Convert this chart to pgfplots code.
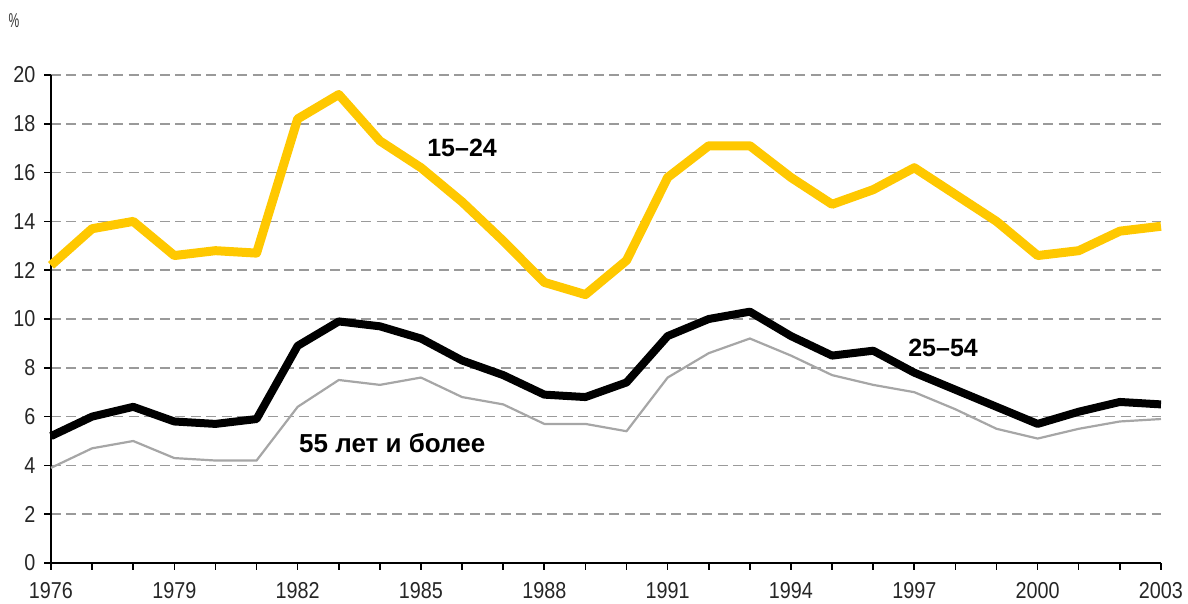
\documentclass[border=0pt]{standalone}
\usepackage{fontspec}
\setmainfont{Liberation Sans}
\newfontfamily\tickfont[FakeStretch=0.86]{Liberation Sans}
\usepackage{graphicx}
\usepackage{pgfplots}
\pgfplotsset{compat=1.18}
\definecolor{ylw}{HTML}{FFC800}
\definecolor{gry}{HTML}{A6A6A6}
\definecolor{grd}{HTML}{9A9A9A}
\begin{document}
\begin{tikzpicture}[x=1pt,y=1pt]
\useasboundingbox (-51,-41) rectangle (1137,563);
\begin{axis}[
  at={(0,0)}, anchor=south west,
  scale only axis, width=1110pt, height=488pt,
  xmin=1976, xmax=2003, ymin=0, ymax=20,
  axis x line*=bottom, axis y line*=left,
  axis line style={-, line width=1.6pt, black},
  xtick={1976,1979,...,2003},
  minor xtick={1976,...,2003},
  ytick={0,2,...,20},
  tick align=outside,
  major tick length=7pt, minor tick length=7pt,
  every tick/.style={black, line width=1.6pt},
  ymajorgrids,
  major grid style={grd, line width=1.5pt, dash pattern=on 10pt off 5.5pt},
  /pgf/number format/assume math mode=true,
  /pgf/number format/1000 sep={},
  tick label style={font=\tickfont\fontsize{23}{26}\selectfont, text=black!85},
  xticklabel style={yshift=-9pt},
  yticklabel style={xshift=-5pt},
  clip=false,
]
\addplot[gry, line width=2.2pt, line join=round] coordinates {
(1976,3.9)(1977,4.7)(1978,5.0)(1979,4.3)(1980,4.2)(1981,4.2)(1982,6.4)(1983,7.5)(1984,7.3)(1985,7.6)(1986,6.8)(1987,6.5)(1988,5.7)(1989,5.7)(1990,5.4)(1991,7.6)(1992,8.6)(1993,9.2)(1994,8.5)(1995,7.7)(1996,7.3)(1997,7.0)(1998,6.3)(1999,5.5)(2000,5.1)(2001,5.5)(2002,5.8)(2003,5.9)};
\addplot[black, line width=8pt, line join=round] coordinates {
(1976,5.2)(1977,6.0)(1978,6.4)(1979,5.8)(1980,5.7)(1981,5.9)(1982,8.9)(1983,9.9)(1984,9.7)(1985,9.2)(1986,8.3)(1987,7.7)(1988,6.9)(1989,6.8)(1990,7.4)(1991,9.3)(1992,10.0)(1993,10.3)(1994,9.3)(1995,8.5)(1996,8.7)(1997,7.8)(1998,7.1)(1999,6.4)(2000,5.7)(2001,6.2)(2002,6.6)(2003,6.5)};
\addplot[ylw, line width=9pt, line join=round] coordinates {
(1976,12.2)(1977,13.7)(1978,14.0)(1979,12.6)(1980,12.8)(1981,12.7)(1982,18.2)(1983,19.2)(1984,17.3)(1985,16.2)(1986,14.8)(1987,13.2)(1988,11.5)(1989,11.0)(1990,12.4)(1991,15.8)(1992,17.1)(1993,17.1)(1994,15.8)(1995,14.7)(1996,15.3)(1997,16.2)(1998,15.1)(1999,14.0)(2000,12.6)(2001,12.8)(2002,13.6)(2003,13.8)};
\node[font=\fontsize{25}{28}\selectfont\bfseries] at (axis cs:1986.0,17.0) {15–24};
\node[font=\fontsize{25}{28}\selectfont\bfseries] at (axis cs:1997.7,8.8) {25–54};
\node[font=\fontsize{26}{30}\selectfont\bfseries] at (axis cs:1984.3,4.9) {55 лет и более};
\end{axis}
\node[text=black!80, inner sep=0pt] at (-37,542) {\scalebox{0.6}[1]{\fontsize{20}{22}\selectfont\%}};
\end{tikzpicture}
\end{document}
